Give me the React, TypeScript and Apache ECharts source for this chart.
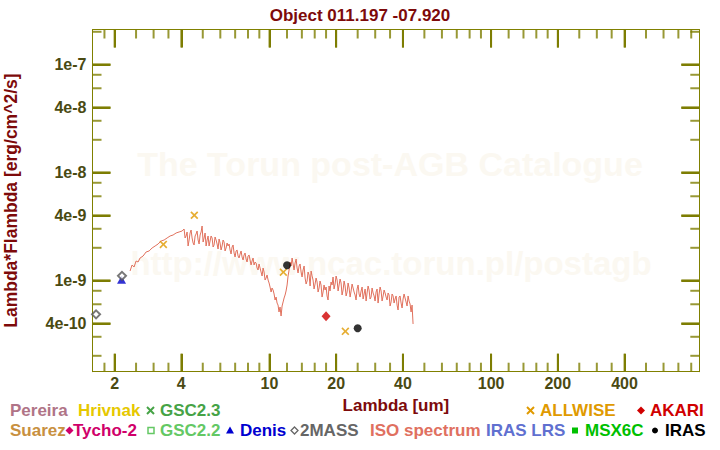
import { useEffect, useRef } from 'react';
import * as echarts from 'echarts';

// ---------- data (wavelength in um, lambda*F_lambda in erg/cm^2/s) ----------
// ISO SWS spectrum (main trace)
const isoLambda = [
  2.349, 2.398, 2.449, 2.501, 2.553, 2.607, 2.690, 2.774, 2.862, 2.953, 3.047, 3.143, 3.243, 3.346,
  3.451, 3.561, 3.673, 3.790, 3.909, 4.033, 4.118, 4.204, 4.293, 4.383, 4.475, 4.569, 4.665, 4.763,
  4.863, 4.965, 5.069, 5.176, 5.284, 5.395, 5.509, 5.623, 5.742, 5.862, 5.985, 6.111, 6.239, 6.370,
  6.504, 6.640, 6.780, 6.922, 7.068, 7.216, 7.368, 7.522, 7.680, 7.841, 8.006, 8.174, 8.345, 8.521,
  8.699, 8.882, 9.068, 9.259, 9.453, 9.652, 9.856, 10.06, 10.27, 10.49, 10.71, 10.93, 11.16, 11.28,
  11.40, 11.64, 11.88, 12.01, 12.13, 12.26, 12.39, 12.52, 12.65, 12.78, 13.05, 13.32, 13.60, 13.89,
  14.18, 14.48, 14.78, 15.09, 15.41, 15.73, 16.06, 16.40, 16.74, 17.09, 17.45, 17.82, 18.19, 18.57,
  18.96, 19.36, 19.77, 20.19, 20.61, 21.04, 21.49, 21.94, 22.40, 22.87, 23.35, 23.84, 24.34, 24.85,
  25.37, 25.91, 26.45, 27.01, 27.57, 28.15, 28.74, 29.35, 29.96, 30.59, 31.23, 31.89, 32.56, 33.24,
  33.94, 34.65, 35.38, 36.12, 36.88, 37.65, 38.44, 39.25, 40.07, 40.91, 41.77, 42.65, 43.54, 44.00,
  44.46,
];
const isoFlux = [
  1.219e-9, 1.386e-9, 1.328e-9, 1.509e-9, 1.477e-9, 1.609e-9, 1.679e-9, 1.828e-9, 1.868e-9, 1.991e-9,
  2.078e-9, 2.168e-9, 2.312e-9, 2.361e-9, 2.465e-9, 2.572e-9, 2.627e-9, 2.742e-9, 2.801e-9, 2.860e-9,
  2.985e-9, 2.572e-9, 2.078e-9, 2.742e-9, 2.465e-9, 2.123e-9, 2.684e-9, 2.361e-9, 2.627e-9, 3.183e-9,
  2.465e-9, 2.078e-9, 2.572e-9, 2.312e-9, 2.465e-9, 2.123e-9, 2.361e-9, 1.949e-9, 2.215e-9, 2.078e-9,
  2.262e-9, 1.991e-9, 2.078e-9, 1.908e-9, 2.034e-9, 1.790e-9, 1.868e-9, 1.679e-9, 1.752e-9, 1.643e-9,
  1.715e-9, 1.575e-9, 1.679e-9, 1.542e-9, 1.509e-9, 1.386e-9, 1.446e-9, 1.246e-9, 1.300e-9, 1.096e-9,
  1.194e-9, 1.050e-9, 1.006e-9, 0.867e-9, 0.849e-9, 0.747e-9, 0.700e-9, 0.590e-9, 0.566e-9, 0.467e-9,
  0.578e-9, 0.686e-9, 0.796e-9, 0.905e-9, 1.096e-9, 1.246e-9, 1.477e-9, 1.357e-9, 1.609e-9, 1.416e-9,
  1.446e-9, 1.300e-9, 1.357e-9, 1.194e-9, 1.246e-9, 1.050e-9, 0.985e-9, 1.120e-9, 1.219e-9, 1.006e-9,
  0.924e-9, 0.964e-9, 0.849e-9, 0.905e-9, 0.779e-9, 0.813e-9, 0.716e-9, 0.886e-9, 0.964e-9, 1.073e-9,
  0.924e-9, 1.006e-9, 0.905e-9, 0.944e-9, 0.813e-9, 0.886e-9, 0.779e-9, 0.849e-9, 0.796e-9, 0.849e-9,
  0.731e-9, 0.831e-9, 0.747e-9, 0.796e-9, 0.671e-9, 0.831e-9, 0.763e-9, 0.813e-9, 0.700e-9, 0.763e-9,
  0.643e-9, 0.831e-9, 0.747e-9, 0.796e-9, 0.716e-9, 0.763e-9, 0.657e-9, 0.731e-9, 0.630e-9, 0.716e-9,
  0.671e-9, 0.590e-9, 0.700e-9, 0.616e-9, 0.671e-9, 0.686e-9, 0.578e-9, 0.643e-9, 0.509e-9, 0.590e-9,
  0.394e-9,
];
// ISO SWS spectrum, noise spikes in between the main trace samples
const isoSpikeLambda = [
  4.161, 4.248, 4.338, 4.429, 4.522, 4.617, 4.714, 4.813, 4.914, 5.017, 5.122, 5.230, 5.339, 5.451,
  5.567, 5.682, 5.802, 5.923, 6.047, 6.175, 6.304, 6.437, 6.572, 6.709, 6.851, 6.994, 7.142, 7.291,
  7.445, 7.601, 7.760, 7.923, 8.090, 8.259, 8.432, 8.610, 8.790, 8.975, 9.163, 9.356, 9.552, 9.753,
  9.959, 10.17, 10.38, 10.60, 10.82, 11.04, 11.52, 11.76,
  12.91, 13.19, 13.46, 13.74, 14.03, 14.33, 14.63, 14.93, 15.25, 15.57, 15.89, 16.23, 16.57, 16.91,
  17.27, 17.63, 18.01, 18.38, 18.76, 19.16, 19.56, 19.98, 20.40, 20.83, 21.26, 21.71, 22.17, 22.63,
  23.11, 23.59, 24.09, 24.59, 25.11, 25.63, 26.18, 26.73, 27.29, 27.86, 28.44, 29.04, 29.66, 30.27,
  30.91, 31.56, 32.22, 32.90, 33.59, 34.29, 35.01, 35.75, 36.50, 37.27, 38.04, 38.84, 39.66, 40.49,
  41.34, 42.21, 43.10,
];
const isoSpikeFlux = [
  2.465e-9, 2.801e-9, 2.361e-9, 2.922e-9, 2.215e-9, 2.572e-9, 2.860e-9, 2.168e-9, 2.801e-9, 2.262e-9,
  2.742e-9, 2.361e-9, 2.078e-9, 2.572e-9, 2.034e-9, 2.518e-9, 2.168e-9, 2.413e-9, 1.908e-9, 2.361e-9,
  1.868e-9, 2.215e-9, 2.168e-9, 1.752e-9, 2.123e-9, 1.643e-9, 1.908e-9, 1.609e-9, 1.868e-9, 1.542e-9,
  1.790e-9, 1.477e-9, 1.715e-9, 1.386e-9, 1.609e-9, 1.477e-9, 1.300e-9, 1.416e-9, 1.194e-9, 1.300e-9,
  1.006e-9, 1.120e-9, 0.944e-9, 0.779e-9, 0.813e-9, 0.657e-9, 0.616e-9, 0.509e-9, 0.630e-9, 0.731e-9,
  1.246e-9, 1.575e-9, 1.169e-9, 1.416e-9, 1.073e-9, 1.357e-9, 0.924e-9, 1.194e-9, 0.886e-9, 1.096e-9,
  0.831e-9, 1.050e-9, 0.779e-9, 0.985e-9, 0.700e-9, 0.905e-9, 0.867e-9, 0.657e-9, 0.796e-9, 0.905e-9,
  0.831e-9, 1.096e-9, 0.796e-9, 1.028e-9, 0.731e-9, 0.985e-9, 0.716e-9, 0.944e-9, 0.700e-9, 0.924e-9,
  0.779e-9, 0.657e-9, 0.905e-9, 0.700e-9, 0.867e-9, 0.747e-9, 0.643e-9, 0.886e-9, 0.671e-9, 0.849e-9,
  0.716e-9, 0.779e-9, 0.616e-9, 0.867e-9, 0.643e-9, 0.813e-9, 0.700e-9, 0.763e-9, 0.578e-9, 0.747e-9,
  0.616e-9, 0.716e-9, 0.531e-9, 0.716e-9, 0.554e-9, 0.747e-9, 0.630e-9, 0.716e-9, 0.603e-9,
];

const allwiseLambda = [3.32, 4.58, 11.55, 22.0];
const allwiseFlux = [2.15e-9, 4.0e-9, 1.19e-9, 3.37e-10];
const irasLambda = [12, 25];
const irasFlux = [1.377e-9, 3.6e-10];
const akariLambda = [18];
const akariFlux = [4.64e-10];
const twomassLambda = [1.65, 2.16];
const twomassFlux = [4.84e-10, 1.1e-9];
const denisLambda = [2.15];
const denisFlux = [1.01e-9];

const xMin = 1.59;
const xMax = 870;
const yMin = 1.425e-10;
const yMax = 2.1e-7;

const xMajorTicks = [2, 4, 10, 20, 40, 100, 200, 400];
const xTickLabels = ['2', '4', '10', '20', '40', '100', '200', '400'];
const xMinorTicks = [1.8, 2.5, 3, 3.5, 5, 6, 7, 8, 9, 12, 14, 16, 18, 25, 30, 35, 50, 60, 70, 80, 90,
  120, 140, 160, 180, 250, 300, 350, 500, 600, 700, 800];
const yMajorTicks = [1e-7, 4e-8, 1e-8, 4e-9, 1e-9, 4e-10];
const yTickLabels = ['1e-7', '4e-8', '1e-8', '4e-9', '1e-9', '4e-10'];
const yMinorTicks = [2e-7, 8e-8, 6e-8, 3e-8, 2e-8, 8e-9, 6e-9, 3e-9, 2e-9, 8e-10, 6e-10, 3e-10, 2e-10];

const titleText = 'Object 011.197 -07.920';
const xName = 'Lambda [um]';
const yName = 'Lambda*Flambda [erg/cm^2/s]';
const watermark1 = 'The Torun post-AGB Catalogue';
const watermark2 = 'http://www.ncac.torun.pl/postagb';

// ---------- style ----------
const FONT = "'Liberation Sans', Arial, Helvetica, sans-serif";
const AXIS = '#808000';
const TICK = '#7c7c04';
const TICK_SYM = '#7e7e02';
const TICKLBL = '#4a4a12';
const DARKRED = '#7d0a0a';
const MAJOR_LEN = 18;
const MINOR_LEN = 9;

const L = (v: number) => Math.log10(v);
const pairs = (xs: number[], ys: number[]) => xs.map((x, i) => [L(x), L(ys[i])]);

function labelFor(ticks: number[], labels: string[]) {
  return (v: number) => {
    const i = ticks.findIndex((t) => Math.abs(L(t) - v) < 1e-6);
    return i >= 0 ? labels[i] : '';
  };
}

function makeAxis(kind: 'x' | 'y', position: string, labels: string[] | null) {
  const ticks = kind === 'x' ? xMajorTicks : yMajorTicks;
  const ax: any = {
    type: 'value',
    position,
    min: kind === 'x' ? L(xMin) : L(yMin),
    max: kind === 'x' ? L(xMax) : L(yMax),
    axisLine: { onZero: false, lineStyle: { color: AXIS } },
    splitLine: { show: false },
    axisTick: { show: true, inside: true, length: MAJOR_LEN, customValues: ticks.map(L), lineStyle: { color: TICK, width: 2 } },
    axisLabel: { show: false },
  };
  if (labels) {
    ax.axisLabel = {
      show: true,
      customValues: ticks.map(L),
      formatter: labelFor(ticks, labels),
      color: TICKLBL, fontFamily: FONT, fontWeight: 'bold', fontSize: 16,
      margin: kind === 'x' ? 4 : 6,
    };
  }
  return ax;
}

// tick marks: thin rect symbols placed on the frame through the axes' scales
function tickMarks(side: 'bottom' | 'top' | 'left' | 'right', vals: number[], len: number) {
  const horiz = side === 'bottom' || side === 'top';
  const data = vals.map((v) => {
    if (side === 'bottom') return [L(v), L(yMin)];
    if (side === 'top') return [L(v), L(yMax)];
    if (side === 'left') return [L(xMin), L(v)];
    return [L(xMax), L(v)];
  });
  const off = side === 'bottom' ? [0, -len / 2] : side === 'top' ? [0, len / 2] : side === 'left' ? [len / 2, 0] : [-len / 2, 0];
  return {
    type: 'scatter', data, symbol: 'rect',
    symbolSize: horiz ? [2, len] : [len, 2],
    symbolOffset: off,
    itemStyle: { color: TICK_SYM },
  };
}

export default function App() {
  const ref = useRef<HTMLDivElement>(null);
  useEffect(() => {
    if (!ref.current) return;
    const chart = echarts.init(ref.current, null, { renderer: 'svg' });

    const nameStyle = { color: DARKRED, fontFamily: FONT, fontWeight: 'bold', fontSize: 17 };
    const legendText = (text: string, x: number, y: number, color: string) => ({
      type: 'text', x, y, z: 10,
      style: { text, fill: color, font: `bold 17px ${FONT}`, textAlign: 'left', textVerticalAlign: 'middle' },
    });
    const cross = (cx: number, cy: number, color: string) => ({
      type: 'group', z: 10,
      children: [
        { type: 'line', shape: { x1: cx - 3.5, y1: cy - 3.5, x2: cx + 3.5, y2: cy + 3.5 }, style: { stroke: color, lineWidth: 2 } },
        { type: 'line', shape: { x1: cx - 3.5, y1: cy + 3.5, x2: cx + 3.5, y2: cy - 3.5 }, style: { stroke: color, lineWidth: 2 } },
      ],
    });
    const diamond = (cx: number, cy: number, r: number, color: string, filled: boolean) => ({
      type: 'polygon', z: 10,
      shape: { points: [[cx, cy - r], [cx + r, cy], [cx, cy + r], [cx - r, cy]] },
      style: filled ? { fill: color } : { fill: 'none', stroke: color, lineWidth: 1.3 },
    });

    const R1 = 410.5;
    const R2 = 430.5;
    const isoAll = pairs(isoLambda, isoFlux).concat(pairs(isoSpikeLambda, isoSpikeFlux)).sort((a, b) => a[0] - b[0]);

    chart.setOption({
      animation: false,
      title: {
        text: titleText, left: 'center', top: 2,
        textStyle: { color: DARKRED, fontFamily: FONT, fontWeight: 'bold', fontSize: 17 },
      },
      grid: { left: 92.5, top: 29.5, right: 20.7, bottom: 78.3, outerBoundsMode: 'none' },
      xAxis: [
        { ...makeAxis('x', 'bottom', xTickLabels), name: xName, nameLocation: 'middle', nameGap: 24, nameTextStyle: nameStyle },
        makeAxis('x', 'top', null),
      ],
      yAxis: [
        { ...makeAxis('y', 'left', yTickLabels), name: yName, nameLocation: 'middle', nameGap: 73,
          nameRotate: 90, nameTextStyle: { ...nameStyle, fontSize: 17.5 } },
        makeAxis('y', 'right', null),
      ],
      graphic: [
        { type: 'text', x: 390, y: 164, silent: true,
          style: { text: watermark1, fill: '#fbf8f1', font: `bold 34px ${FONT}`, textAlign: 'center', textVerticalAlign: 'middle' } },
        { type: 'text', x: 391, y: 263, silent: true,
          style: { text: watermark2, fill: '#fbf8f1', font: `bold 33px ${FONT}`, textAlign: 'center', textVerticalAlign: 'middle' } },
        legendText('Pereira', 10, R1, '#b07487'),
        legendText('Hrivnak', 78, R1, '#e6c800'),
        cross(150.5, R1, '#46a346'),
        legendText('GSC2.3', 160, R1, '#46a346'),
        cross(530.5, R1, '#e09a00'),
        legendText('ALLWISE', 540, R1, '#e09a00'),
        diamond(641, R1, 4, '#d00000', true),
        legendText('AKARI', 650, R1, '#d00000'),
        legendText('Suarez', 10, R2, '#c89040'),
        diamond(69.5, R2, 4, '#d0006a', true),
        legendText('Tycho-2', 73, R2, '#d0006a'),
        { type: 'rect', z: 10, shape: { x: 148, y: R2 - 3, width: 6, height: 6 }, style: { fill: 'none', stroke: '#64c864', lineWidth: 1.5 } },
        legendText('GSC2.2', 160, R2, '#64c864'),
        { type: 'polygon', z: 10, shape: { points: [[230, R2 - 4], [234, R2 + 3], [226, R2 + 3]] }, style: { fill: '#0000d0' } },
        legendText('Denis', 240, R2, '#0000d0'),
        diamond(294.5, R2, 3.5, '#666666', false),
        legendText('2MASS', 300, R2, '#666666'),
        legendText('ISO spectrum', 370, R2, '#e07060'),
        legendText('IRAS LRS', 486, R2, '#6070d0'),
        { type: 'rect', z: 10, shape: { x: 572, y: R2 - 3, width: 6, height: 6 }, style: { fill: '#00c000' } },
        legendText('MSX6C', 585, R2, '#00c000'),
        { type: 'circle', z: 10, shape: { cx: 655, cy: R2, r: 3 }, style: { fill: '#000000' } },
        legendText('IRAS', 665, R2, '#000000'),
      ],
      series: [
        tickMarks('bottom', xMajorTicks, MAJOR_LEN),
        tickMarks('top', xMajorTicks, MAJOR_LEN),
        tickMarks('left', yMajorTicks, MAJOR_LEN),
        tickMarks('right', yMajorTicks, MAJOR_LEN),
        tickMarks('bottom', xMinorTicks, MINOR_LEN),
        tickMarks('top', xMinorTicks, MINOR_LEN),
        tickMarks('left', yMinorTicks, MINOR_LEN),
        tickMarks('right', yMinorTicks, MINOR_LEN),
        {
          name: 'ISO spectrum', type: 'line',
          data: isoAll, showSymbol: false, symbol: 'none',
          lineStyle: { color: '#e0705c', width: 1 }, z: 3,
        },
        {
          name: 'Denis', type: 'scatter', data: pairs(denisLambda, denisFlux),
          symbol: 'triangle', symbolSize: [9, 8], itemStyle: { color: '#0000c8' }, z: 4,
        },
        {
          name: '2MASS', type: 'scatter', data: pairs(twomassLambda, twomassFlux),
          symbol: 'emptyDiamond', symbolSize: 8, itemStyle: { color: '#555555', borderWidth: 1.2 }, z: 5,
        },
        {
          name: 'ALLWISE', type: 'scatter', data: pairs(allwiseLambda, allwiseFlux),
          symbol: 'path://M0,1.5L1.5,0L5,3.5L8.5,0L10,1.5L6.5,5L10,8.5L8.5,10L5,6.5L1.5,10L0,8.5L3.5,5Z',
          symbolSize: 8, itemStyle: { color: '#e09a00' }, z: 5,
        },
        {
          name: 'AKARI', type: 'scatter', data: pairs(akariLambda, akariFlux),
          symbol: 'diamond', symbolSize: [9, 10], itemStyle: { color: '#d00000' }, z: 5,
        },
        {
          name: 'IRAS', type: 'scatter', data: pairs(irasLambda, irasFlux),
          symbol: 'circle', symbolSize: 8, itemStyle: { color: '#000000' }, z: 5,
        },
      ],
    });
    return () => chart.dispose();
  }, []);

  return (
    <div
      ref={ref}
      style={{ position: 'fixed', left: 0, top: 0, width: 720, height: 450, background: '#fff' }}
    />
  );
}
